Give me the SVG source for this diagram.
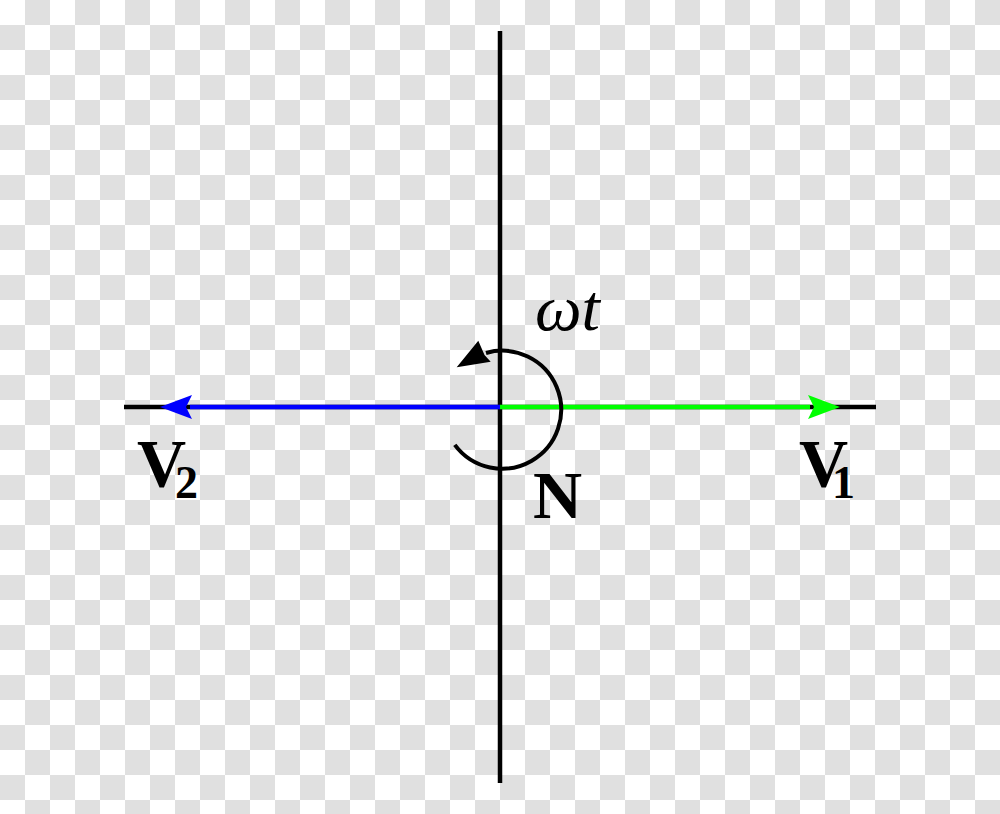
<svg xmlns="http://www.w3.org/2000/svg" width="1000" height="814" viewBox="0 0 1000 814">
<defs>
<pattern id="checker" width="50" height="50" patternUnits="userSpaceOnUse">
<rect width="50" height="50" fill="#ffffff"/>
<rect x="25" y="0" width="25" height="25" fill="#e0e0e0"/>
<rect x="0" y="25" width="25" height="25" fill="#e0e0e0"/>
</pattern>
<style>
.axis{stroke:#000;stroke-width:4.5;fill:none}
.lbl{font-family:"Liberation Serif","Times New Roman",serif;font-weight:bold;fill:#000;font-size:68px}
.sub{font-size:46px}
.omega{font-family:"Liberation Serif","Times New Roman",serif;font-style:italic;font-size:66px;fill:#000}
</style>
</defs>
<rect width="1000" height="814" fill="url(#checker)"/>
<g id="connectors">
<line class="axis" x1="500" y1="31" x2="500" y2="783"/>
<line class="axis" x1="124" y1="407" x2="876" y2="407"/>
<line x1="500" y1="407" x2="190" y2="407" stroke="#0000ff" stroke-width="4.5"/>
<polygon points="160,407 192,395 186,407 192,419" fill="#0000ff"/>
<line x1="500" y1="407" x2="810" y2="407" stroke="#00ff00" stroke-width="4.5"/>
<polygon points="840,407 808,395 814,407 808,419" fill="#00ff00"/>
<path d="M454.8,444.9 A59,59 0 1 0 486,353" fill="none" stroke="#000" stroke-width="4"/>
<polygon points="456.7,367.3 478.3,340.7 484.5,355 490.7,361.7" fill="#000"/>
</g>
<g id="V2">
<text class="lbl" x="137" y="486">V<tspan class="sub" x="175" y="498">2</tspan></text>
</g>
<g id="V1">
<text class="lbl" x="799" y="486">V<tspan class="sub" x="832" y="498">1</tspan></text>
</g>
<g id="N">
<text class="lbl" x="533" y="518">N</text>
</g>
<g id="omega">
<text class="omega" x="535" y="330">ωt</text>
</g>
</svg>
